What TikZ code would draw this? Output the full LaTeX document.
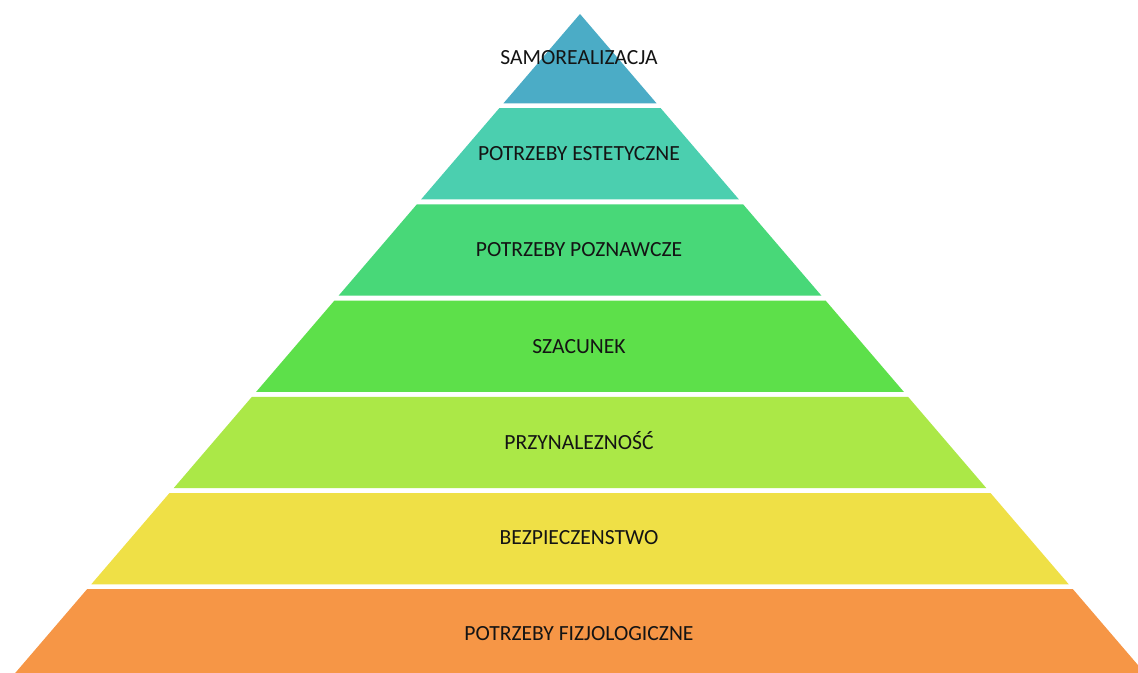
\documentclass[tikz,border=0pt]{standalone}
\usepackage{fontspec}
\setmainfont{Carlito}
\definecolor{c1}{HTML}{4BACC6}
\definecolor{c2}{HTML}{4BCFAF}
\definecolor{c3}{HTML}{48D878}
\definecolor{c4}{HTML}{5DE04A}
\definecolor{c5}{HTML}{ABE847}
\definecolor{c6}{HTML}{EFE046}
\definecolor{c7}{HTML}{F69646}
\definecolor{txt}{HTML}{141414}
\newcommand{\pyrlayer}[6]{%
  \pgfmathsetmacro{\wt}{0.857*(#1-14)}%
  \pgfmathsetmacro{\wb}{0.857*(#2-14)}%
  \fill[#3] (580-\wt,#1) -- (580+\wt,#1) -- (580+\wb,#2) -- (580-\wb,#2) -- cycle;
  \node[lbl] (#5) at (579,#6) {#4};%
}
\begin{document}
\begin{tikzpicture}[x=0.75pt,y=-0.75pt,
  lbl/.style={text=txt,font=\fontsize{16.2}{19}\selectfont,inner sep=0pt,anchor=center}]
\useasboundingbox (0,0) rectangle (1138,673);
\fill[white] (0,0) rectangle (1138,673);
\clip (0,0) rectangle (1138,673);
\pyrlayer{14}{103.3}{c1}{SAMOREALIZACJA}{l1}{57.5}
\pyrlayer{108.2}{199.5}{c2}{POTRZEBY ESTETYCZNE}{l2}{154}
\pyrlayer{204.4}{295.7}{c3}{POTRZEBY POZNAWCZE}{l3}{250}
\pyrlayer{300.6}{391.9}{c4}{SZACUNEK}{l4}{346.5}
\pyrlayer{396.8}{488.1}{c5}{PRZYNALEZNOŚĆ}{l5}{441}
\pyrlayer{493}{584.3}{c6}{BEZPIECZENSTWO}{l6}{537.5}
\pyrlayer{589.2}{677}{c7}{POTRZEBY FIZJOLOGICZNE}{l7}{633.5}
\end{tikzpicture}
\end{document}
